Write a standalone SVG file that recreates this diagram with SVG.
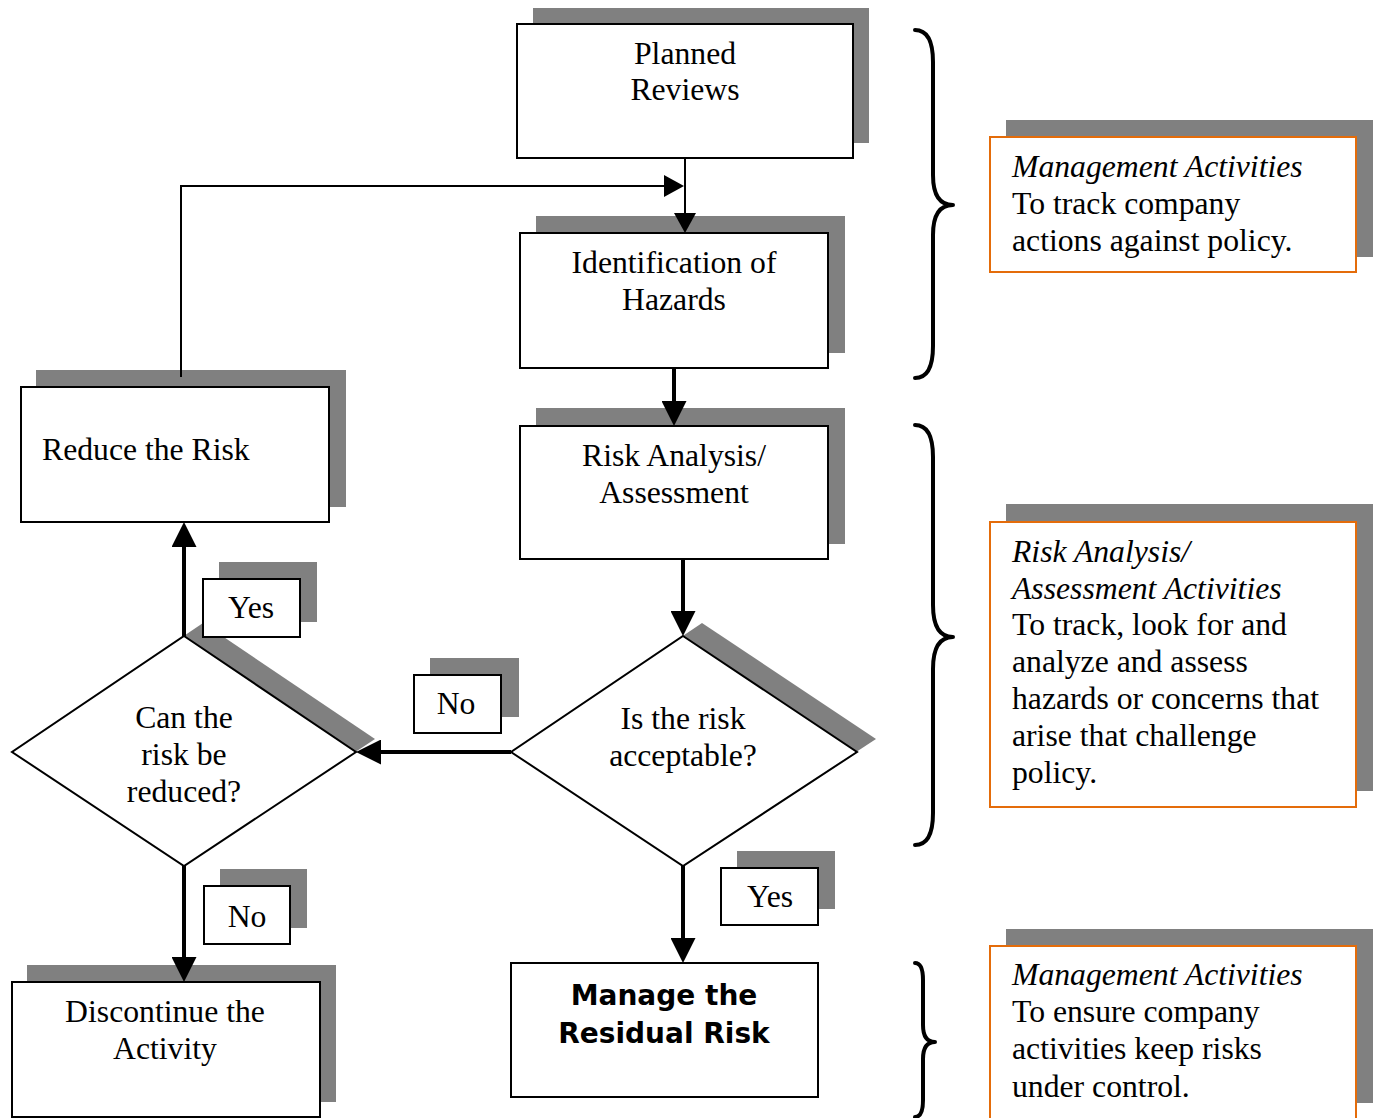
<svg xmlns="http://www.w3.org/2000/svg" width="1379" height="1118" viewBox="0 0 1379 1118">
  <defs>
    <style>
      .shadow { fill: #808080; stroke: none; }
      .box { fill: #ffffff; stroke: #000000; stroke-width: 2; }
      .note { fill: #ffffff; stroke: #E46C0A; stroke-width: 2; }
      .t { font-family: "Liberation Serif", "Times New Roman", serif; font-size: 31.7px; fill: #000000; }
      .c { text-anchor: middle; }
      .i { font-style: italic; }
      .b { font-family: "DejaVu Sans", Verdana, sans-serif; font-weight: bold; font-size: 28px; text-anchor: middle; fill: #000000; }
      .thin { fill: none; stroke: #000000; stroke-width: 2; }
      .thick { fill: none; stroke: #000000; stroke-width: 4; }
      .brace { fill: none; stroke: #000000; stroke-width: 4; stroke-linecap: round; stroke-linejoin: round; }
    </style>
    <marker id="arrThin" markerUnits="userSpaceOnUse" markerWidth="20" markerHeight="22" viewBox="0 0 20 22" refX="10" refY="11" orient="auto">
      <path d="M0,0 L20,11 L0,22 z" fill="#000000"/>
    </marker>
    <marker id="arrThick" markerUnits="userSpaceOnUse" markerWidth="25" markerHeight="25" viewBox="0 0 25 25" refX="15" refY="12.5" orient="auto">
      <path d="M0,0 L25,12.5 L0,25 z" fill="#000000"/>
    </marker>
  </defs>
  <rect width="1379" height="1118" fill="#ffffff"/>

  <g id="planned-reviews">
    <rect class="shadow" x="533" y="8" width="336" height="135"/>
    <rect class="box" x="517" y="24" width="336" height="134"/>
    <text class="t c" x="685" y="64">Planned</text>
    <text class="t c" x="685" y="100">Reviews</text>
  </g>

  <g id="identification">
    <rect class="shadow" x="536" y="216" width="309" height="137"/>
    <rect class="box" x="520" y="233" width="308" height="135"/>
    <text class="t c" x="674" y="273">Identification of</text>
    <text class="t c" x="674" y="310">Hazards</text>
  </g>

  <g id="risk-analysis">
    <rect class="shadow" x="536" y="408" width="309" height="136"/>
    <rect class="box" x="520" y="426" width="308" height="133"/>
    <text class="t c" x="674" y="466">Risk Analysis/</text>
    <text class="t c" x="674" y="503">Assessment</text>
  </g>

  <g id="reduce-risk">
    <rect class="shadow" x="36" y="370" width="310" height="137"/>
    <rect class="box" x="21" y="387" width="308" height="135"/>
    <text class="t" x="42" y="460">Reduce the Risk</text>
  </g>

  <g id="is-acceptable">
    <polygon class="shadow" points="702,623 876,739 702,853 530,739"/>
    <polygon class="box" points="683,636 857,752 683,866 511,752"/>
    <text class="t c" x="683" y="729">Is the risk</text>
    <text class="t c" x="683" y="766">acceptable?</text>
  </g>

  <g id="can-reduce">
    <polygon class="shadow" points="203,623 375,739 203,853 31,739"/>
    <polygon class="box" points="184,636 356,752 184,866 12,752"/>
    <text class="t c" x="184" y="728">Can the</text>
    <text class="t c" x="184" y="765">risk be</text>
    <text class="t c" x="184" y="802">reduced?</text>
  </g>

  <g id="discontinue">
    <rect class="shadow" x="27" y="965" width="309" height="137"/>
    <rect class="box" x="12" y="982" width="308" height="135"/>
    <text class="t c" x="165" y="1022">Discontinue the</text>
    <text class="t c" x="165" y="1059">Activity</text>
  </g>

  <g id="manage-residual">
    <rect class="box" x="511" y="963" width="307" height="134"/>
    <text class="b" x="664" y="1005">Manage the</text>
    <text class="b" x="664" y="1043">Residual Risk</text>
  </g>

  <g id="label-yes-upper">
    <rect class="shadow" x="219" y="562" width="98" height="60"/>
    <rect class="box" x="203" y="579" width="97" height="58"/>
    <text class="t c" x="251" y="618">Yes</text>
  </g>

  <g id="label-no-middle">
    <rect class="shadow" x="430" y="658" width="89" height="59"/>
    <rect class="box" x="414" y="675" width="87" height="58"/>
    <text class="t c" x="456" y="714">No</text>
  </g>

  <g id="label-no-lower">
    <rect class="shadow" x="220" y="869" width="87" height="59"/>
    <rect class="box" x="204" y="886" width="86" height="58"/>
    <text class="t c" x="247" y="927">No</text>
  </g>

  <g id="label-yes-lower">
    <rect class="shadow" x="737" y="851" width="98" height="58"/>
    <rect class="box" x="721" y="868" width="97" height="57"/>
    <text class="t c" x="770" y="907">Yes</text>
  </g>

  <g id="note-management-top">
    <rect class="shadow" x="1006" y="120" width="367" height="137"/>
    <rect class="note" x="990" y="137" width="366" height="135"/>
    <text class="t i" x="1012" y="177">Management Activities</text>
    <text class="t" x="1012" y="214">To track company</text>
    <text class="t" x="1012" y="251">actions against policy.</text>
  </g>

  <g id="note-risk-analysis">
    <rect class="shadow" x="1006" y="504" width="367" height="287"/>
    <rect class="note" x="990" y="522" width="366" height="285"/>
    <text class="t i" x="1012" y="562">Risk Analysis/</text>
    <text class="t i" x="1012" y="599">Assessment Activities</text>
    <text class="t" x="1012" y="635">To track, look for and</text>
    <text class="t" x="1012" y="672">analyze and assess</text>
    <text class="t" x="1012" y="709">hazards or concerns that</text>
    <text class="t" x="1012" y="746">arise that challenge</text>
    <text class="t" x="1012" y="783">policy.</text>
  </g>

  <g id="note-management-bottom">
    <rect class="shadow" x="1006" y="929" width="367" height="174"/>
    <rect class="note" x="990" y="946" width="366" height="190"/>
    <text class="t i" x="1012" y="985">Management Activities</text>
    <text class="t" x="1012" y="1022">To ensure company</text>
    <text class="t" x="1012" y="1059">activities keep risks</text>
    <text class="t" x="1012" y="1097">under control.</text>
  </g>

  <g id="braces">
    <path class="brace" d="M915,30 Q933,30 933,62 L933,175 Q933,205 953,205 Q933,205 933,235 L933,346 Q933,378 915,378"/>
    <path class="brace" d="M915,425 Q933,425 933,457 L933,605 Q933,637 953,637 Q933,637 933,669 L933,813 Q933,845 915,845"/>
    <path class="brace" d="M915,963 Q923,963 923,980 L923,1025 Q923,1042 935,1042 Q923,1042 923,1059 L923,1100 Q923,1117 915,1117"/>
  </g>

  <g id="connectors">
    <path class="thin" d="M685,158 L685,223" marker-end="url(#arrThin)"/>
    <path class="thin" d="M181,377 L181,186 L674,186" marker-end="url(#arrThin)"/>
    <path class="thick" d="M674,368 L674,416" marker-end="url(#arrThick)"/>
    <path class="thick" d="M683,559 L683,626" marker-end="url(#arrThick)"/>
    <path class="thick" d="M511,752 L366,752" marker-end="url(#arrThick)"/>
    <path class="thick" d="M184,636 L184,532" marker-end="url(#arrThick)"/>
    <path class="thick" d="M184,866 L184,972" marker-end="url(#arrThick)"/>
    <path class="thick" d="M683,866 L683,953" marker-end="url(#arrThick)"/>
  </g>
</svg>
